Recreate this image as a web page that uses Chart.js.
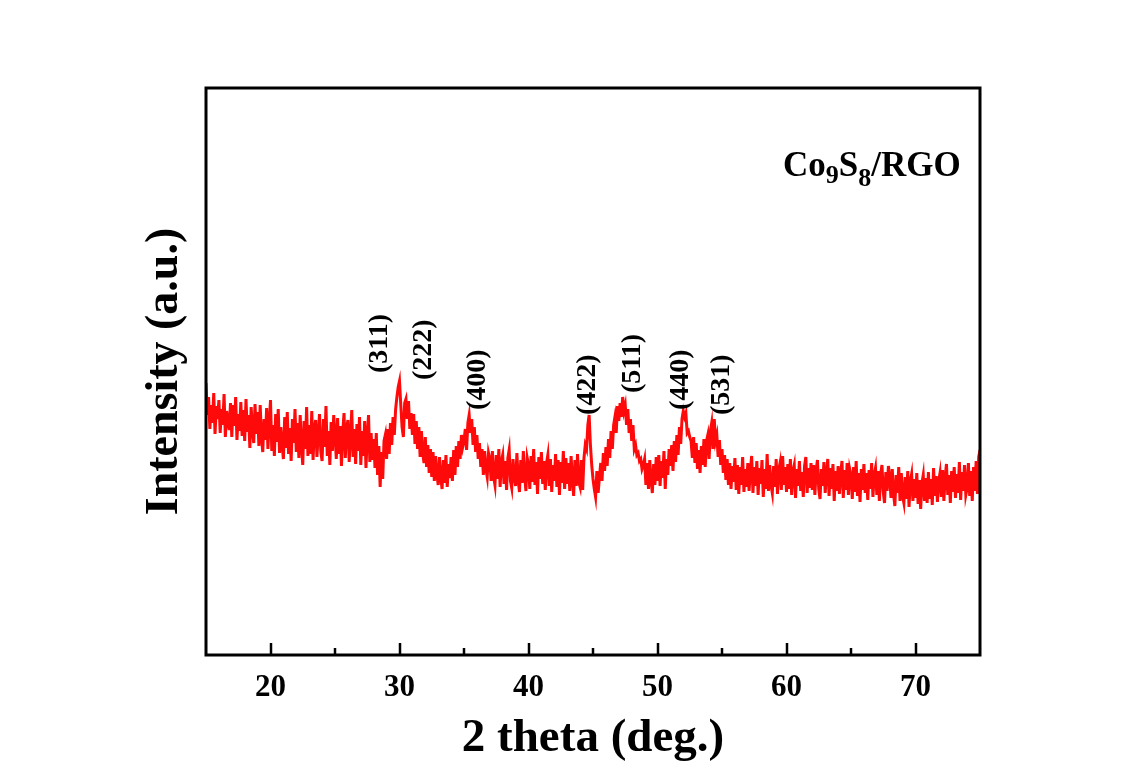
<!DOCTYPE html>
<html>
<head>
<meta charset="utf-8">
<script src="https://cdn.jsdelivr.net/npm/chart.js@4.4.1/dist/chart.umd.min.js"></script>
<style>
  html, body { margin:0; padding:0; background:#fff; }
  #wrap { width:1124px; height:780px; }
</style>
</head>
<body>
<div id="wrap"><canvas id="xrd" width="1124" height="780"></canvas></div>
<script>
// --- data (intensity in arbitrary units) ---
const thetaStart = 15;
const thetaStep = 0.1;
const intensity = [
  272,240,258,226,250,232,262,221,249,236, // 15
  255,222,246,230,261,218,244,234,225,252, // 16
  218,250,229,258,215,241,224,253,219,245, // 17
  214,256,223,240,207,248,226,212,251,221, // 18
  243,209,250,218,203,236,215,247,206,232, // 19
  255,204,230,199,241,213,246,202,228,210, // 20
  196,238,207,243,201,227,194,236,212,246, // 21
  203,232,197,240,209,190,234,206,248,199, // 22
  230,201,244,195,226,235,198,221,241,203, // 23
  194,236,208,249,199,224,190,233,204,240, // 24
  221,196,237,201,229,189,223,242,197,226, // 25
  235,193,219,245,198,226,191,231,204,238, // 26
  190,224,199,234,187,219,240,193,222,195, // 27
  216,187,222,180,209,168,203,176,214,220, // 28
  196,226,201,232,210,238,220,246,258,268, // 29
  274,250,228,218,252,256,236,254,226,242, // 30
  220,241,211,234,206,228,198,224,202,192, // 31
  218,188,210,182,206,178,203,174,199,181, // 32
  170,198,178,166,195,172,200,168,191,177, // 33
  198,174,205,180,209,188,214,196,220,208, // 34
  214,226,205,232,240,222,236,210,228,203, // 35
  220,196,212,188,206,180,204,186,178,202, // 36
  196,174,204,178,170,200,176,206,168,194, // 37
  200,171,194,165,197,205,174,167,196,178, // 38
  169,202,176,163,195,172,204,179,164,197, // 39
  190,166,199,173,206,170,193,161,198,176, // 40
  203,171,194,165,192,200,169,196,163,190, // 41
  174,201,168,195,160,193,172,204,166,197, // 42
  171,192,164,199,176,159,195,169,201,173, // 43
  168,195,165,197,210,206,230,240,210,190, // 44
  176,166,158,184,162,178,192,174,202,184, // 45
  208,189,216,197,224,206,230,238,222,249, // 46
  234,252,238,258,244,250,230,246,222,236, // 47
  214,230,206,210,200,202,194,196,186,190, // 48
  196,170,192,166,195,175,162,191,170,198, // 49
  174,200,169,194,177,204,166,196,180,206, // 50
  189,210,184,214,193,220,200,228,211,236, // 51
  244,238,242,222,224,218,214,197,218,192, // 52
  212,186,205,182,209,190,216,188,214,220, // 53
  196,224,232,206,236,214,220,198,215,190, // 54
  206,182,200,175,196,170,192,166,189,173, // 55
  197,165,190,161,188,170,198,163,186,168, // 56
  192,164,185,199,162,188,169,194,160,187, // 57
  171,195,158,186,166,201,164,190,170,162, // 58
  189,168,196,161,185,192,165,199,170,188, // 59
  163,191,166,196,160,184,190,157,186,169, // 60
  194,164,183,158,189,198,162,187,167,192, // 61
  165,190,160,185,195,166,156,186,169,193, // 62
  162,182,196,159,187,166,191,154,184,164, // 63
  189,161,181,194,157,185,165,192,160,186, // 64
  180,156,188,163,194,159,182,153,186,165, // 65
  191,162,182,155,185,166,192,158,180,187, // 66
  160,184,154,181,190,163,152,183,164,189, // 67
  178,157,186,161,149,180,162,188,154,182, // 68
  159,152,178,156,184,148,174,181,154,176, // 69
  157,182,151,175,146,172,180,154,177,152, // 70
  183,156,176,150,187,159,179,153,174,182, // 71
  158,185,154,178,191,160,180,152,184,163, // 72
  188,157,181,162,193,155,183,164,190,160, // 73
  167,192,159,184,154,188,164,194,161,198, // 74
  205                                      // 75
];
const xTickLabels = [20, 30, 40, 50, 60, 70];
const xMinorTicks = [25, 35, 45, 55, 65];
const peakLabels = ['(311)', '(222)', '(400)', '(422)', '(511)', '(440)', '(531)'];
const peakTheta  = [28.5, 31.9, 36.1, 44.6, 48.1, 51.8, 55.0];
const peakLevel  = [282, 275, 245, 240, 262, 245, 240];

const FONT = '"Liberation Serif", "Times New Roman", serif';
const points = intensity.map((v, i) => ({ x: +(thetaStart + i * thetaStep).toFixed(1), y: v }));

// frame, inward ticks and text annotations
const decor = {
    id: 'decor',
    afterDraw(chart) {
        const ctx = chart.ctx;
        const a = chart.chartArea;
        const xs = chart.scales.x, ys = chart.scales.y;
        ctx.save();
        ctx.strokeStyle = '#000';
        ctx.lineWidth = 3;
        ctx.strokeRect(a.left, a.top, a.right - a.left, a.bottom - a.top);

        // ticks pointing inside
        ctx.lineWidth = 2.5;
        xTickLabels.forEach(v => {
            const px = Math.round(xs.getPixelForValue(v));
            ctx.beginPath(); ctx.moveTo(px, a.bottom); ctx.lineTo(px, a.bottom - 12); ctx.stroke();
        });
        xMinorTicks.forEach(v => {
            const px = Math.round(xs.getPixelForValue(v));
            ctx.beginPath(); ctx.moveTo(px, a.bottom); ctx.lineTo(px, a.bottom - 7); ctx.stroke();
        });

        // peak labels (rotated)
        ctx.fillStyle = '#000';
        ctx.font = 'bold 28px ' + FONT;
        ctx.textAlign = 'left';
        ctx.textBaseline = 'middle';
        peakLabels.forEach((t, i) => {
            const px = xs.getPixelForValue(peakTheta[i]);
            const py = ys.getPixelForValue(peakLevel[i]);
            ctx.save();
            ctx.translate(px, py);
            ctx.rotate(-Math.PI / 2);
            ctx.fillText(t, 0, 0);
            ctx.restore();
        });

        // sample name with subscripts
        const parts = [['Co', 35, 0], ['9', 26, 7], ['S', 35, 0], ['8', 26, 10], ['/RGO', 35, 0]];
        let x = 783;
        const base = 176;
        ctx.textBaseline = 'alphabetic';
        parts.forEach(p => {
            ctx.font = 'bold ' + p[1] + 'px ' + FONT;
            ctx.fillText(p[0], x, base + p[2]);
            x += ctx.measureText(p[0]).width;
        });
        ctx.restore();
    }
};

new Chart(document.getElementById('xrd'), {
    type: 'line',
    data: {
        datasets: [{
            data: points,
            borderColor: '#ff0a0a',
            borderWidth: 3,
            pointRadius: 0,
            tension: 0,
            fill: false
        }]
    },
    options: {
        responsive: false,
        animation: false,
        devicePixelRatio: 1,
        layout: { padding: { left: 0, right: 144, top: 88, bottom: 0 } },
        plugins: { legend: { display: false }, tooltip: { enabled: false } },
        scales: {
            x: {
                type: 'linear',
                min: 15, max: 75,
                afterFit: s => { s.height = 125; },
                afterBuildTicks: s => { s.ticks = xTickLabels.map(v => ({ value: v })); },
                grid: { display: false, drawTicks: false },
                border: { display: false },
                ticks: { color: '#000', padding: 14, font: { family: FONT, size: 31, weight: 'bold' } },
                title: {
                    display: true, text: '2 theta (deg.)', color: '#000',
                    font: { family: FONT, size: 47, weight: 'bold' },
                    padding: { top: 0, bottom: 13 }
                }
            },
            y: {
                min: 0, max: 567,
                afterFit: s => { s.width = 206; },
                grid: { display: false, drawTicks: false },
                border: { display: false },
                ticks: { display: false },
                title: {
                    display: true, text: 'Intensity (a.u.)', color: '#000',
                    font: { family: FONT, size: 46, weight: 'bold' },
                    padding: { top: 138, bottom: 0 }
                }
            }
        }
    },
    plugins: [decor]
});
</script>
</body>
</html>
